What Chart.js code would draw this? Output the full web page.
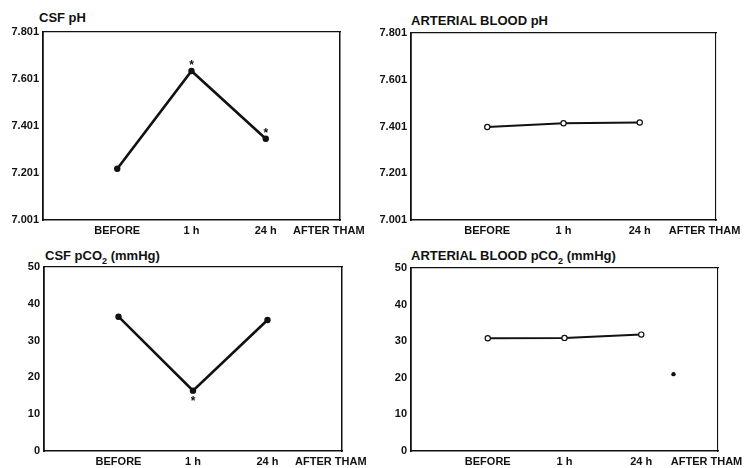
<!DOCTYPE html>
<html>
<head>
<meta charset="utf-8">
<title>CSF and arterial blood pH / pCO2 after THAM</title>
<script src="https://cdn.jsdelivr.net/npm/chart.js@4.4.0/dist/chart.umd.min.js"></script>
<style>
  html, body { margin: 0; padding: 0; background: #fff; overflow: hidden; }
  #page { position: relative; width: 753px; height: 468px; }
  canvas { position: absolute; }
  .title {
    position: absolute;
    font: bold 13px "Liberation Sans", Arial, sans-serif;
    line-height: 16px;
    color: #111;
    white-space: nowrap;
  }
  .title sub { font-size: 9px; line-height: 0; vertical-align: -4px; }
</style>
</head>
<body>
<div id="page">
  <div class="title" style="left:39px;top:10px">CSF pH</div>
  <div class="title" style="left:411px;top:13px">ARTERIAL BLOOD pH</div>
  <div class="title" style="left:45px;top:248px">CSF pCO<sub>2</sub> (mmHg)</div>
  <div class="title" style="left:411px;top:248px">ARTERIAL BLOOD pCO<sub>2</sub> (mmHg)</div>

  <canvas id="csf-ph" width="376" height="238" style="left:0;top:0"></canvas>
  <canvas id="art-ph" width="377" height="238" style="left:376px;top:0"></canvas>
  <canvas id="csf-pco2" width="376" height="236" style="left:0;top:232px"></canvas>
  <canvas id="art-pco2" width="377" height="236" style="left:376px;top:232px"></canvas>
</div>

<script>
// sampling times along the x axis
const timeLabels = ['BEFORE', '1 h', '24 h', 'AFTER THAM'];
const timePos = [1, 2, 3, 3.85];

const phTicks = [7.001, 7.201, 7.401, 7.601, 7.801];
const pco2Ticks = [0, 10, 20, 30, 40, 50];

const csfPh = [7.219, 7.635, 7.347];
const csfPhSig = [false, true, true];

const arterialPh = [7.399, 7.415, 7.418];

const csfPco2 = [36.5, 16.4, 35.6];
const csfPco2Sig = [false, true, false];

const arterialPco2 = [30.8, 30.9, 31.8];
// single reading plotted on its own, past 24 h
const arterialPco2LateX = [3.42];
const arterialPco2LateY = [21.0];

const ink = '#111';
const tickFont = { family: '"Liberation Sans", Arial, sans-serif', size: 11, weight: 'bold' };

// asterisks next to the significant points of the first dataset
const sigMarks = {
  id: 'sigMarks',
  afterDatasetsDraw(chart, args, opts) {
    if (!opts.flags) return;
    const meta = chart.getDatasetMeta(0);
    const ctx = chart.ctx;
    ctx.save();
    ctx.fillStyle = ink;
    ctx.font = 'bold 12px "Liberation Sans", Arial, sans-serif';
    ctx.textAlign = 'center';
    ctx.textBaseline = 'middle';
    opts.flags.forEach((on, i) => {
      if (!on || !meta.data[i]) return;
      const pt = meta.data[i];
      ctx.fillText('*', pt.x, pt.y + opts.side * 8 + 3);
    });
    ctx.restore();
  }
};

function makePanel(id, p) {
  const datasets = [{
    data: p.values.map((v, i) => ({ x: timePos[i], y: v })),
    borderColor: ink,
    borderWidth: p.lineWidth,
    tension: 0,
    pointRadius: 2.6,
    pointBorderWidth: 1.2,
    pointBorderColor: ink,
    pointBackgroundColor: p.openPoints ? '#fff' : ink
  }];
  if (p.extraX) {
    datasets.push({
      data: p.extraX.map((x, i) => ({ x, y: p.extraY[i] })),
      showLine: false,
      pointRadius: 2.2,
      pointBorderWidth: 0,
      pointBackgroundColor: ink
    });
  }

  const yTicks = p.yTicks;
  return new Chart(document.getElementById(id), {
    type: 'line',
    data: { datasets },
    options: {
      responsive: false,
      animation: false,
      layout: { padding: p.padding },
      plugins: {
        legend: { display: false },
        tooltip: { enabled: false },
        sigMarks: { flags: p.sig, side: p.sigSide }
      },
      scales: {
        x: {
          type: 'linear',
          min: 0,
          max: 4,
          grid: { display: false, drawTicks: false },
          border: { color: ink, width: 1.4, dash: [18, 3, 5, 3] },
          afterBuildTicks: s => { s.ticks = timePos.map(v => ({ value: v })); },
          afterFit: s => { s.height = p.xHeight; },
          ticks: {
            autoSkip: false,
            maxRotation: 0,
            padding: 4,
            color: ink,
            font: tickFont,
            callback: (v, i) => timeLabels[i]
          }
        },
        top: {
          type: 'linear',
          position: 'top',
          min: 0,
          max: 4,
          grid: { display: false, drawTicks: false },
          ticks: { display: false },
          border: { color: ink, width: 1.3, dash: [22, 3, 4, 4, 12, 3] },
          afterFit: s => { s.height = 0; }
        },
        y: {
          type: 'linear',
          min: yTicks[0],
          max: yTicks[yTicks.length - 1],
          grid: { display: false, drawTicks: false },
          border: { color: ink, width: 1.8 },
          afterBuildTicks: s => { s.ticks = yTicks.map(v => ({ value: v })); },
          afterFit: s => { s.width = p.yWidth; },
          ticks: {
            padding: 4,
            color: ink,
            font: tickFont,
            callback: v => p.fmt(v)
          }
        },
        right: {
          type: 'linear',
          position: 'right',
          min: 0,
          max: 1,
          grid: { display: false, drawTicks: false },
          ticks: { display: false },
          border: p.rightDash
            ? { color: ink, width: 1.1, dash: [9, 4, 3, 4] }
            : { color: ink, width: 1.5 },
          afterFit: s => { s.width = 0; }
        }
      }
    },
    plugins: [sigMarks]
  });
}

const phFmt = v => v.toFixed(3);
const pco2Fmt = v => String(v);

makePanel('csf-ph', {
  values: csfPh, sig: csfPhSig, sigSide: -1,
  lineWidth: 2.6, openPoints: false,
  yTicks: phTicks, fmt: phFmt, yWidth: 43, xHeight: 18,
  padding: { left: 0, right: 36, top: 32, bottom: 0 },
  rightDash: false
});

makePanel('art-ph', {
  values: arterialPh,
  lineWidth: 2, openPoints: true,
  yTicks: phTicks, fmt: phFmt, yWidth: 35, xHeight: 18,
  padding: { left: 0, right: 37, top: 33, bottom: 0 },
  rightDash: true
});

makePanel('csf-pco2', {
  values: csfPco2, sig: csfPco2Sig, sigSide: 1,
  lineWidth: 2.6, openPoints: false,
  yTicks: pco2Ticks, fmt: pco2Fmt, yWidth: 44, xHeight: 17,
  padding: { left: 0, right: 34, top: 35, bottom: 0 },
  rightDash: false
});

makePanel('art-pco2', {
  values: arterialPco2,
  extraX: arterialPco2LateX, extraY: arterialPco2LateY,
  lineWidth: 2, openPoints: true,
  yTicks: pco2Ticks, fmt: pco2Fmt, yWidth: 35, xHeight: 17,
  padding: { left: 0, right: 35, top: 36, bottom: 0 },
  rightDash: true
});
</script>
</body>
</html>
